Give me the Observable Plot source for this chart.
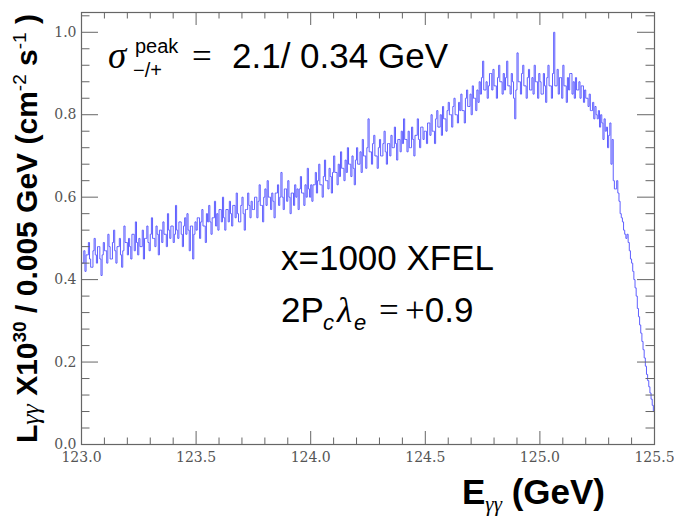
<!DOCTYPE html>
<html><head><meta charset="utf-8">
<script src="https://cdn.jsdelivr.net/npm/d3@7"></script>
<script src="https://cdn.jsdelivr.net/npm/@observablehq/plot@0.6"></script>
<style>
html,body{margin:0;padding:0;background:#fff;}
svg{display:block;}
</style></head><body><div id="chart"></div>
<script>
// ---- data ----
const binStart = 123.0;   // GeV, lower edge of first bin
const binWidth = 0.005;   // GeV
const lumi = [
0.44,0.44,0.47,0.42,0.46,0.46,0.49,0.45,0.43,0.43,
0.47,0.50,0.46,0.44,0.48,0.48,0.45,0.41,0.46,0.49,
0.47,0.47,0.44,0.51,0.48,0.45,0.45,0.49,0.52,0.47,
0.44,0.48,0.48,0.50,0.46,0.43,0.47,0.53,0.49,0.49,
0.46,0.50,0.48,0.45,0.51,0.51,0.47,0.54,0.49,0.46,
0.50,0.48,0.48,0.52,0.45,0.50,0.50,0.53,0.49,0.47,
0.51,0.55,0.50,0.50,0.48,0.53,0.51,0.46,0.52,0.52,
0.49,0.54,0.51,0.51,0.48,0.56,0.52,0.50,0.53,0.53,
0.49,0.51,0.58,0.52,0.50,0.54,0.54,0.51,0.48,0.53,
0.55,0.51,0.56,0.52,0.47,0.53,0.53,0.45,0.51,0.54,
0.52,0.55,0.55,0.50,0.54,0.57,0.53,0.53,0.49,0.56,
0.54,0.58,0.54,0.51,0.55,0.55,0.59,0.53,0.56,0.52,
0.57,0.57,0.54,0.60,0.55,0.52,0.57,0.57,0.54,0.59,
0.56,0.53,0.58,0.58,0.55,0.61,0.56,0.54,0.54,0.58,
0.60,0.56,0.52,0.57,0.57,0.61,0.58,0.55,0.59,0.57,
0.57,0.60,0.60,0.55,0.59,0.63,0.58,0.58,0.54,0.60,
0.62,0.58,0.64,0.60,0.60,0.57,0.61,0.59,0.55,0.61,
0.61,0.63,0.58,0.60,0.66,0.60,0.57,0.62,0.62,0.59,
0.64,0.60,0.56,0.61,0.61,0.58,0.63,0.60,0.62,0.57,
0.62,0.65,0.61,0.61,0.58,0.63,0.60,0.67,0.62,0.60,
0.63,0.59,0.63,0.63,0.66,0.61,0.64,0.68,0.63,0.63,
0.60,0.65,0.69,0.64,0.64,0.62,0.67,0.65,0.61,0.66,
0.70,0.66,0.66,0.63,0.68,0.65,0.71,0.67,0.67,0.64,
0.69,0.66,0.72,0.68,0.68,0.65,0.70,0.67,0.63,0.69,
0.72,0.68,0.68,0.71,0.66,0.74,0.70,0.70,0.67,0.72,
0.79,0.71,0.71,0.68,0.73,0.75,0.70,0.70,0.67,0.72,
0.74,0.70,0.70,0.73,0.76,0.71,0.68,0.73,0.73,0.70,
0.75,0.72,0.72,0.77,0.73,0.69,0.74,0.74,0.71,0.76,
0.73,0.79,0.74,0.74,0.71,0.76,0.72,0.72,0.77,0.74,
0.70,0.75,0.75,0.79,0.74,0.72,0.77,0.77,0.74,0.76,
0.76,0.73,0.78,0.78,0.75,0.80,0.76,0.76,0.73,0.79,
0.81,0.77,0.77,0.80,0.75,0.82,0.79,0.79,0.76,0.81,
0.83,0.80,0.80,0.77,0.82,0.84,0.80,0.80,0.78,0.83,
0.81,0.85,0.81,0.81,0.78,0.84,0.86,0.82,0.82,0.85,
0.80,0.87,0.84,0.84,0.81,0.86,0.83,0.88,0.85,0.89,
0.93,0.86,0.86,0.88,0.84,0.87,0.90,0.90,0.86,0.91,
0.87,0.87,0.84,0.89,0.92,0.88,0.88,0.85,0.90,0.86,
0.89,0.93,0.87,0.87,0.85,0.90,0.88,0.84,0.79,0.86,
0.95,0.88,0.88,0.85,0.90,0.92,0.87,0.87,0.84,0.89,
0.91,0.86,0.86,0.89,0.85,0.92,0.88,0.88,0.84,0.90,
0.88,0.85,0.85,0.90,0.87,0.83,0.89,0.92,0.87,0.87,
0.84,0.90,1.00,0.87,0.87,0.91,0.85,0.89,0.89,0.84,
0.92,0.87,0.87,0.83,0.89,0.86,0.90,0.90,0.85,0.88,
0.84,0.89,0.86,0.86,0.88,0.84,0.87,0.87,0.83,0.86,
0.84,0.84,0.82,0.85,0.81,0.81,0.83,0.79,0.82,0.80,
0.79,0.81,0.77,0.80,0.78,0.74,0.79,0.76,0.77,0.72,
0.75,0.78,0.68,0.74,0.64,0.62,0.62,0.64,0.61,0.59,
0.56,0.55,0.54,0.52,0.51,0.50,0.51,0.49,0.47,0.45,
0.44,0.42,0.40,0.38,0.36,0.33,0.31,0.29,0.27,0.25,
0.23,0.21,0.19,0.17,0.155,0.14,0.125,0.11,0.095,0.08
];
const xMajorTicks = [123.0, 123.5, 124.0, 124.5, 125.0, 125.5];
const xTickLabels = ["123.0", "123.5", "124.0", "124.5", "125.0", "125.5"];
const xMinorTicks = [123.1,123.2,123.3,123.4,123.6,123.7,123.8,123.9,124.1,124.2,124.3,124.4,
                     124.6,124.7,124.8,124.9,125.1,125.2,125.3,125.4];
const yMajorTicks = [0.0, 0.2, 0.4, 0.6, 0.8, 1.0];
const yTickLabels = ["0.0", "0.2", "0.4", "0.6", "0.8", "1.0"];
const yMinorTicks = [0.04,0.08,0.12,0.16,0.24,0.28,0.32,0.36,0.44,0.48,0.52,0.56,
                     0.64,0.68,0.72,0.76,0.84,0.88,0.92,0.96,1.04];

// histogram edges (step-after), last bin closed at upper edge
const hist = lumi.map((v, i) => ({E: binStart + i * binWidth, L: v}));
hist.push({E: binStart + lumi.length * binWidth, L: lumi[lumi.length - 1]});

// ---- layout ----
const W = 674, H = 518, mL = 81, mR = 20, mT = 12, mB = 74;
const iW = W - mL - mR, iH = H - mT - mB;
const axisCol = "#666";
const lblFont = "'DejaVu Serif', serif";

const svg = Plot.plot({
  width: W, height: H,
  marginLeft: mL, marginRight: mR, marginTop: mT, marginBottom: mB,
  x: {domain: [123, 125.5], axis: null},
  y: {domain: [0, 1.048], axis: null},
  style: {background: "#fff", overflow: "visible"},
  marks: [
    Plot.line(hist, {x: "E", y: "L", curve: "step-after", stroke: "#5f5fff", strokeWidth: 1}),
    // inward ticks, all four sides
    Plot.tickX(xMajorTicks, {x: d => d, insetTop: iH - 13, stroke: axisCol}),
    Plot.tickX(xMajorTicks, {x: d => d, insetBottom: iH - 13, stroke: axisCol}),
    Plot.tickX(xMinorTicks, {x: d => d, insetTop: iH - 6.5, stroke: axisCol}),
    Plot.tickX(xMinorTicks, {x: d => d, insetBottom: iH - 6.5, stroke: axisCol}),
    Plot.tickY(yMajorTicks, {y: d => d, insetRight: iW - 17, stroke: axisCol}),
    Plot.tickY(yMajorTicks, {y: d => d, insetLeft: iW - 17, stroke: axisCol}),
    Plot.tickY(yMinorTicks, {y: d => d, insetRight: iW - 8.5, stroke: axisCol}),
    Plot.tickY(yMinorTicks, {y: d => d, insetLeft: iW - 8.5, stroke: axisCol}),
    Plot.frame({stroke: axisCol, strokeWidth: 1.2}),
    Plot.text(xMajorTicks, {x: d => d, frameAnchor: "bottom", dy: 17, text: (d, i) => xTickLabels[i],
      fontFamily: lblFont, fontSize: 14, fill: "#555"}),
    Plot.text(yMajorTicks, {y: d => d, frameAnchor: "left", dx: -5, textAnchor: "end", text: (d, i) => yTickLabels[i],
      fontFamily: lblFont, fontSize: 14, fill: "#555"})
  ]
});

const s = d3.select(svg);
const sans = "'Liberation Sans', Arial, sans-serif";
const serif = "'Liberation Serif', 'Times New Roman', serif";
const txt = () => s.append("text").attr("text-anchor", "start").attr("font-family", sans).attr("fill", "#000");

// sigma annotation
const t1 = txt();
t1.append("tspan").attr("x", 108).attr("y", 68).attr("font-family", serif).attr("font-style", "italic").attr("font-size", 37).text("σ");
t1.append("tspan").attr("x", 135).attr("y", 53).attr("font-size", 20).text("peak");
t1.append("tspan").attr("x", 133).attr("y", 77).attr("font-size", 20).text("−/+");
t1.append("tspan").attr("x", 192).attr("y", 68).attr("font-family", serif).attr("font-size", 35).text("=");
t1.append("tspan").attr("x", 232).attr("y", 68).attr("font-size", 35).text("2.1/ 0.34 GeV");

// XFEL annotation
txt().attr("x", 281).attr("y", 270).attr("font-size", 35).text("x=1000 XFEL");

// polarization annotation
const t3 = txt();
t3.append("tspan").attr("x", 281).attr("y", 322).attr("font-size", 35).text("2P");
t3.append("tspan").attr("x", 323).attr("y", 330).attr("font-size", 22).attr("font-style", "italic").text("c");
t3.append("tspan").attr("x", 337).attr("y", 322).attr("font-family", serif).attr("font-style", "italic").attr("font-size", 35).text("λ");
t3.append("tspan").attr("x", 354).attr("y", 330).attr("font-size", 22).attr("font-style", "italic").text("e");
t3.append("tspan").attr("x", 379).attr("y", 322).attr("font-family", serif).attr("font-size", 35).text("=");
t3.append("tspan").attr("x", 405).attr("y", 322).attr("font-family", serif).attr("font-size", 35).text("+");
t3.append("tspan").attr("font-size", 35).text("0.9");

// x-axis title
const tx = txt().attr("font-weight", "bold");
tx.append("tspan").attr("x", 462).attr("y", 504).attr("font-size", 35).text("E");
tx.append("tspan").attr("y", 511).attr("font-size", 21).attr("font-weight", "normal").attr("font-family", serif).attr("font-style", "italic").text("γγ");
tx.append("tspan").attr("y", 504).attr("font-size", 35).text(" (GeV)");

// y-axis title (rotated)
const ty = txt().attr("transform", "translate(37,443) rotate(-90)")
  .attr("font-weight", "bold").attr("font-size", 30);
ty.append("tspan").text("L");
ty.append("tspan").attr("dy", 2).attr("font-size", 26).attr("font-weight", "normal").attr("font-family", serif).attr("font-style", "italic").text("γγ");
ty.append("tspan").attr("dy", -2).text(" X10");
ty.append("tspan").attr("dy", -11).attr("font-size", 19).text("30");
ty.append("tspan").attr("dy", 11).text(" / 0.005 GeV (cm");
ty.append("tspan").attr("dy", -11).attr("font-size", 19).attr("font-weight", "normal").text("-2");
ty.append("tspan").attr("dy", 11).text(" s");
ty.append("tspan").attr("dy", -11).attr("font-size", 19).attr("font-weight", "normal").text("-1");
ty.append("tspan").attr("dy", 11).text(" )");

document.getElementById("chart").appendChild(svg);
</script>
</body></html>
